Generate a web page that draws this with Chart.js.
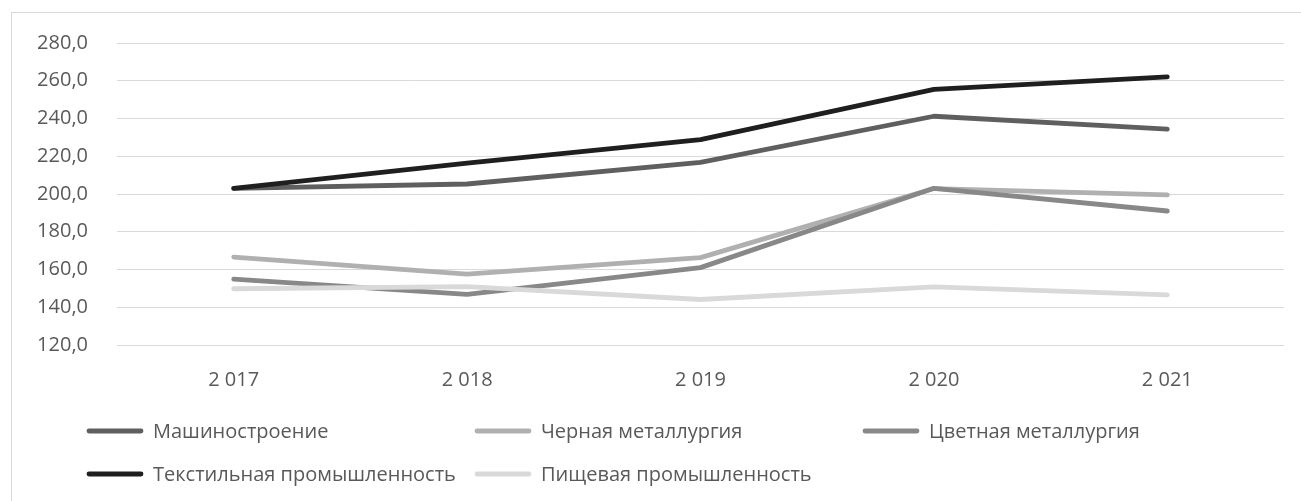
<!DOCTYPE html>
<html>
<head>
<meta charset="utf-8">
<script src="https://cdn.jsdelivr.net/npm/chart.js@4/dist/chart.umd.min.js"></script>
<style>
  html, body { margin: 0; padding: 0; background: #fff; }
  #frame { position: absolute; left: 11px; top: 12px; width: 1289px; height: 488px; border: 1px solid #d9d9d9; }
  #grafico { display: block; }
</style>
</head>
<body>
<div id="frame"><canvas id="grafico" width="1289" height="488"></canvas></div>
<script>
// Datos del gráfico
const years = ['2 017', '2 018', '2 019', '2 020', '2 021'];
const names = ['Машиностроение', 'Черная металлургия', 'Цветная металлургия', 'Текстильная промышленность', 'Пищевая промышленность'];
const mashinostroenie = [203.0, 205.3, 216.8, 241.2, 234.4];
const chernaya = [166.6, 157.6, 166.3, 202.9, 199.5];
const tsvetnaya = [154.9, 146.8, 161.0, 203.0, 191.0];
const tekstilnaya = [203.0, 216.3, 228.8, 255.4, 262.0];
const pishchevaya = [149.8, 150.9, 144.1, 150.8, 146.6];
const yMin = 120, yMax = 280, yStep = 20;

const colores = ['#5f5f5f', '#b0b0b0', '#888888', '#1f1f1f', '#d9d9d9'];
const series = [mashinostroenie, chernaya, tsvetnaya, tekstilnaya, pishchevaya];
const fuente = "'Open Sans', 'Noto Sans', sans-serif";

document.addEventListener('DOMContentLoaded', function() {
    const datasets = series.map(function(valores, i) {
        return {
            label: names[i],
            data: valores,
            borderColor: colores[i],
            backgroundColor: colores[i],
            borderWidth: 4.8,
            borderCapStyle: 'round',
            borderJoinStyle: 'round',
            pointRadius: 0,
            tension: 0,
            order: series.length - i
        };
    });

    // Leyenda en rejilla como en Excel
    const leyendaRejilla = {
        id: 'leyendaRejilla',
        afterDraw(chart) {
            const ctx = chart.ctx;
            const colX = [75, 463, 851];
            const rowY = [418, 461];
            ctx.save();
            ctx.font = '20px ' + fuente;
            ctx.textBaseline = 'middle';
            ctx.textAlign = 'left';
            names.forEach(function(nombre, i) {
                const x = colX[i % 3];
                const y = rowY[Math.floor(i / 3)];
                ctx.strokeStyle = colores[i];
                ctx.lineWidth = 4.8;
                ctx.lineCap = 'round';
                ctx.beginPath();
                ctx.moveTo(x + 2, y);
                ctx.lineTo(x + 54, y);
                ctx.stroke();
                ctx.fillStyle = '#595959';
                ctx.fillText(nombre, x + 66, y + 1);
            });
            ctx.restore();
        }
    };

    new Chart(document.getElementById('grafico'), {
        type: 'line',
        data: { labels: years, datasets: datasets },
        options: {
            responsive: false,
            animation: false,
            devicePixelRatio: 1,
            layout: { padding: { left: 0, right: 17, top: 30, bottom: 109 } },
            plugins: { legend: { display: false }, tooltip: { enabled: false } },
            scales: {
                x: {
                    offset: true,
                    grid: { display: false, drawTicks: false },
                    border: { display: false },
                    ticks: { color: '#595959', font: { family: fuente, size: 20 }, padding: 23, maxRotation: 0 },
                    afterFit: function(scale) { scale.height = 47; }
                },
                y: {
                    min: yMin,
                    max: yMax,
                    grid: { color: '#d9d9d9', lineWidth: 1, drawTicks: false },
                    border: { display: false },
                    ticks: {
                        stepSize: yStep,
                        color: '#595959',
                        font: { family: fuente, size: 20 },
                        padding: 29,
                        callback: function(v) { return v.toFixed(1).replace('.', ','); }
                    },
                    afterFit: function(scale) {
                        scale.width = 105;
                        scale.paddingTop = 0;
                        scale.paddingBottom = 0;
                    }
                }
            }
        },
        plugins: [leyendaRejilla]
    });
});
</script>
</body>
</html>
